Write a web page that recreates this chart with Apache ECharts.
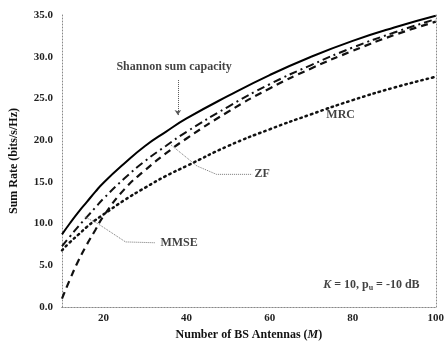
<!DOCTYPE html>
<html><head><meta charset="utf-8">
<script src="https://cdn.jsdelivr.net/npm/echarts@6/dist/echarts.min.js"></script>
<style>html,body{margin:0;padding:0;background:#fff}#c{width:447px;height:346px}</style>
</head><body><div id="c"></div>
<script>
const antennas = [10, 12, 14, 16, 18, 20, 25, 30, 35, 40, 50, 60, 70, 80, 90, 100];
const shannon  = [8.7, 10.1, 11.4, 12.6, 13.8, 14.9, 17.2, 19.3, 21.0, 22.6, 25.3, 27.8, 30.0, 31.9, 33.5, 34.9];
const mmse     = [7.3, 8.5, 9.7, 10.8, 11.9, 13.0, 15.4, 17.5, 19.3, 21.0, 24.0, 26.7, 29.0, 31.1, 32.9, 34.5];
const zf       = [1.0, 3.4, 5.6, 7.5, 9.2, 10.9, 14.1, 16.4, 18.4, 20.2, 23.4, 26.2, 28.6, 30.7, 32.6, 34.2];
const mrc      = [6.8, 7.8, 8.7, 9.6, 10.4, 11.1, 12.8, 14.3, 15.7, 16.9, 19.3, 21.3, 23.1, 24.8, 26.3, 27.6];
const xTickLabels = [20, 40, 60, 80, 100];
const yTickLabels = ['0.0','5.0','10.0','15.0','20.0','25.0','30.0','35.0'];

// annotations (data coordinates)
const shannonLabel = {text: 'Shannon sum capacity', at: [37, 28.8]};
const shannonArrow = [[37.9, 27.2], [37.9, 23.0]];
const zfLabel = {text: 'ZF', at: [58.2, 15.9]};
const zfPointer = [[36.3, 19.4], [42.5, 16.9], [47.2, 15.9], [55.8, 15.9]];
const mmseLabel = {text: 'MMSE', at: [38.2, 7.7]};
const mmsePointer = [[15.5, 10.8], [18.6, 10.0], [25.3, 7.8], [32.4, 7.7]];
const mrcLabel = {text: 'MRC', at: [77.1, 23.0]};
const paramLabel = {at: [84.5, 2.6]};

const FONT = 'Liberation Serif';
const pair = arr => antennas.map((m, i) => [m, arr[i]]);
const frameLine = {show: true, lineStyle: {color: '#888', type: [1, 2], width: 1}};

const pointerStyle = {color: '#777', width: 1, type: [1, 1]};
function textSeries(lbl, rich, fmt) {
  return {
    type: 'scatter', symbolSize: 0, silent: true, z: 5,
    data: [lbl.at],
    label: {show: true, position: 'inside', fontFamily: FONT, fontSize: 12, fontWeight: 'bold', color: '#111',
            formatter: fmt || lbl.text, rich: rich || {}}
  };
}

const chart = echarts.init(document.getElementById('c'));
chart.setOption({
  animation: false,
  backgroundColor: '#fff',
  grid: {left: 62, right: 3, top: 15, bottom: 32},
  xAxis: [{
    type: 'value', min: 10, max: 100, interval: 10,
    axisLine: frameLine, axisTick: {show: false}, splitLine: {show: false},
    axisLabel: {fontFamily: FONT, fontSize: 11, fontWeight: 'bold', color: '#222', margin: 6,
      formatter: v => xTickLabels.includes(v) ? String(v) : ''},
    name: 'Number of BS Antennas ({i|M})', nameLocation: 'middle', nameGap: 22,
    nameTextStyle: {fontFamily: FONT, fontSize: 12, fontWeight: 'bold', color: '#111',
      rich: {i: {fontFamily: FONT, fontSize: 12, fontWeight: 'bold', fontStyle: 'italic', color: '#111'}}}
  }, {
    type: 'value', min: 10, max: 100, position: 'top',
    axisLine: frameLine, axisTick: {show: false}, axisLabel: {show: false}, splitLine: {show: false}
  }],
  yAxis: [{
    type: 'value', min: 0, max: 35, interval: 5,
    axisLine: frameLine, axisTick: {show: false}, splitLine: {show: false},
    axisLabel: {fontFamily: FONT, fontSize: 11, fontWeight: 'bold', color: '#222', margin: 9,
      formatter: (v) => yTickLabels[Math.round(v / 5)]},
    name: 'Sum Rate (bits/s/Hz)', nameLocation: 'middle', nameGap: 42,
    nameTextStyle: {fontFamily: FONT, fontSize: 12, fontWeight: 'bold', color: '#111'}
  }, {
    type: 'value', min: 0, max: 35, position: 'right',
    axisLine: frameLine, axisTick: {show: false}, axisLabel: {show: false}, splitLine: {show: false}
  }],
  series: [
    {name: 'MRC', type: 'line', smooth: true, showSymbol: false, data: pair(mrc),
     lineStyle: {color: '#111', width: 2.5, type: [1.5, 4], cap: 'round'}},
    {name: 'ZF', type: 'line', smooth: true, showSymbol: false, data: pair(zf),
     lineStyle: {color: '#111', width: 2.2, type: [7, 5]}},
    {name: 'MMSE', type: 'line', smooth: true, showSymbol: false, data: pair(mmse),
     lineStyle: {color: '#111', width: 2, type: [8, 4, 2, 4]}},
    {name: 'Shannon', type: 'line', smooth: true, showSymbol: false, data: pair(shannon),
     lineStyle: {color: '#000', width: 2}},
    {type: 'line', showSymbol: false, silent: true, data: zfPointer, lineStyle: pointerStyle},
    {type: 'line', showSymbol: false, silent: true, data: mmsePointer, lineStyle: pointerStyle},
    {type: 'line', showSymbol: false, silent: true, data: [],
     markLine: {silent: true, symbol: ['none', 'arrow'], symbolSize: 5, label: {show: false},
       lineStyle: {color: '#555', width: 1, type: [1, 1]},
       data: [[{coord: shannonArrow[0]}, {coord: shannonArrow[1]}]]}},
    textSeries(shannonLabel),
    textSeries(zfLabel),
    textSeries(mmseLabel),
    textSeries(mrcLabel),
    textSeries(paramLabel, {
      k: {fontFamily: FONT, fontSize: 12, fontWeight: 'bold', fontStyle: 'italic', color: '#111'},
      t: {fontFamily: FONT, fontSize: 12, fontWeight: 'bold', color: '#111'},
      s: {fontFamily: FONT, fontSize: 8, fontWeight: 'bold', color: '#111', verticalAlign: 'bottom', padding: [6, 0, 0, 0]}
    }, '{k|K} {t|= 10, p}{s|u}{t| = -10 dB}')
  ]
});
</script></body></html>
